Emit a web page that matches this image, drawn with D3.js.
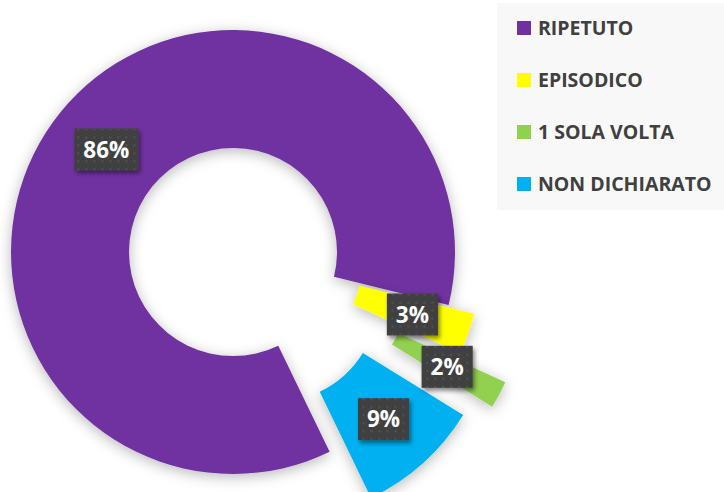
<!DOCTYPE html>
<html><head><meta charset="utf-8">
<script src="https://cdn.jsdelivr.net/npm/d3@7"></script>
<style>body{margin:0;background:#fff}svg{display:block}</style>
</head><body>
<svg id="c" width="724" height="492"></svg>
<script>
const categories = ["RIPETUTO", "EPISODICO", "1 SOLA VOLTA", "NON DICHIARATO"];
const values = [86, 3, 2, 9];
const labels = ["86%", "3%", "2%", "9%"];
const colors = ["#7030A0", "#FFFF00", "#92D050", "#00B0F0"];
const explode = [0, 27, 80, 62];

const svg = d3.select("#c");
const defs = svg.append("defs");
const f = defs.append("filter").attr("id","sh").attr("x","-20%").attr("y","-20%").attr("width","140%").attr("height","140%");
f.append("feDropShadow").attr("dx",0).attr("dy",3).attr("stdDeviation",7).attr("flood-color","#000").attr("flood-opacity",0.28);
const f2 = defs.append("filter").attr("id","sh2").attr("x","-30%").attr("y","-30%").attr("width","160%").attr("height","160%");
f2.append("feDropShadow").attr("dx",2).attr("dy",3).attr("stdDeviation",2).attr("flood-color","#000").attr("flood-opacity",0.45);
const pat = defs.append("pattern").attr("id","dots").attr("width",8).attr("height",8).attr("patternUnits","userSpaceOnUse");
pat.append("rect").attr("width",8).attr("height",8).attr("fill","#404040");
pat.append("rect").attr("x",3).attr("y",3).attr("width",2).attr("height",2).attr("fill","#515151");

const cx = 233, cy = 252, rOut = 222, rIn = 104;
const start = 154.2 * Math.PI / 180;
const pie = d3.pie().sort(null).value(d => d).startAngle(start).endAngle(start + 2*Math.PI);
const arcs = pie(values);
const arc = d3.arc().innerRadius(rIn).outerRadius(rOut);

const g = svg.append("g").attr("transform", `translate(${cx},${cy})`);
const off = (d,i) => { const m = (d.startAngle + d.endAngle)/2; return [explode[i]*Math.sin(m), -explode[i]*Math.cos(m)]; };

g.selectAll("path.s").data(arcs).enter().append("path")
  .attr("class","s")
  .attr("d", arc)
  .attr("fill", (d,i) => colors[i])
  .attr("filter","url(#sh)")
  .attr("transform", (d,i) => { const o = off(d,i); return `translate(${o[0]},${o[1]})`; });

const lg = g.selectAll("g.lab").data(arcs).enter().append("g").attr("class","lab")
  .attr("transform", (d,i) => { const c = arc.centroid(d), o = off(d,i); return `translate(${c[0]+o[0]},${c[1]+o[1]})`; });
lg.append("rect").attr("fill","url(#dots)").attr("filter","url(#sh2)");
lg.append("text").text((d,i) => labels[i])
  .attr("text-anchor","middle").attr("dy","0.36em")
  .attr("font-family","'Open Sans', sans-serif").attr("font-weight",700).attr("font-size",22.5)
  .attr("fill","#fff");
lg.each(function(){
  const t = d3.select(this).select("text").node();
  const w = t.getComputedTextLength() + 18, h = 42;
  d3.select(this).select("rect").attr("x",-w/2).attr("y",-h/2).attr("width",w).attr("height",h);
});

// legend
svg.append("rect").attr("x",497).attr("y",3).attr("width",227).attr("height",207).attr("fill","#f8f8f8");
const y = d3.scalePoint().domain(categories).range([28, 184]);
const leg = svg.selectAll("g.leg").data(categories).enter().append("g").attr("class","leg")
  .attr("transform", d => `translate(517,${y(d)})`);
leg.append("rect").attr("x",0).attr("y",-7).attr("width",14).attr("height",14).attr("fill",(d,i)=>colors[i]);
leg.append("text").attr("x",21).attr("dy","0.36em").text(d=>d)
  .attr("font-family","'Open Sans', sans-serif").attr("font-weight",700).attr("font-size",19.5)
  .attr("fill","#404040");
</script>
</body></html>
